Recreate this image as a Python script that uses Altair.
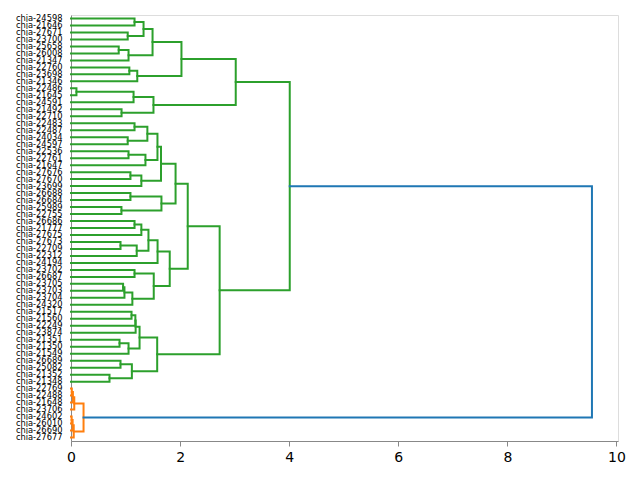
import altair as alt
import pandas as pd

# Leaf labels, listed top to bottom as they appear along the y axis
leaf_labels = [
    "chia-24598", "chia-21646", "chia-27671", "chia-23700", "chia-25658",
    "chia-26008", "chia-21347", "chia-22760", "chia-23698", "chia-21346",
    "chia-22486", "chia-21645", "chia-24591", "chia-21492", "chia-22710",
    "chia-22483", "chia-22487", "chia-24034", "chia-24597", "chia-22536",
    "chia-22761", "chia-21647", "chia-27676", "chia-27670", "chia-23699",
    "chia-26688", "chia-26684", "chia-25989", "chia-22755", "chia-26686",
    "chia-21777", "chia-27675", "chia-27673", "chia-22709", "chia-22312",
    "chia-24194", "chia-23702", "chia-26687", "chia-23705", "chia-23703",
    "chia-23704", "chia-24320", "chia-21517", "chia-21560", "chia-22249",
    "chia-23874", "chia-21351", "chia-21350", "chia-21549", "chia-26689",
    "chia-25082", "chia-21352", "chia-21348", "chia-22769", "chia-22488",
    "chia-21648", "chia-23706", "chia-24602", "chia-26010", "chia-26690",
    "chia-27677",
]

# Merge steps: (cluster id, upper child, lower child, merge distance)
merges = [
    ("a1", "chia-24598", "chia-21646", 1.165),
    ("a2", "chia-27671", "chia-23700", 1.04),
    ("a3", "a1", "a2", 1.33),
    ("a4", "chia-25658", "chia-26008", 0.875),
    ("a5", "a4", "chia-21347", 1.055),
    ("a6", "a3", "a5", 1.495),
    ("a7", "chia-22760", "chia-23698", 1.07),
    ("a8", "a7", "chia-21346", 1.215),
    ("a9", "a6", "a8", 2.025),
    ("a10", "chia-22486", "chia-21645", 0.10),
    ("a11", "a10", "chia-24591", 1.147),
    ("a12", "chia-21492", "chia-22710", 0.927),
    ("a13", "a11", "a12", 1.512),
    ("a14", "a9", "a13", 3.02),
    ("b1", "chia-22483", "chia-22487", 1.165),
    ("b2", "chia-24034", "chia-24597", 1.04),
    ("b3", "b1", "b2", 1.40),
    ("b4", "chia-22536", "chia-22761", 1.055),
    ("b5", "b4", "chia-21647", 1.365),
    ("b6", "b3", "b5", 1.585),
    ("b7", "chia-27676", "chia-27670", 1.09),
    ("b8", "b7", "chia-23699", 1.29),
    ("b9", "b6", "b8", 1.65),
    ("b10", "chia-26688", "chia-26684", 1.09),
    ("b11", "chia-25989", "chia-22755", 0.925),
    ("b12", "b10", "b11", 1.658),
    ("b13", "b9", "b12", 1.917),
    ("c1", "chia-26686", "chia-21777", 1.165),
    ("c2", "c1", "chia-27675", 1.29),
    ("c3", "chia-27673", "chia-22709", 0.908),
    ("c4", "c3", "chia-22312", 1.205),
    ("c5", "c2", "c4", 1.42),
    ("c6", "c5", "chia-24194", 1.587),
    ("c7", "chia-23702", "chia-26687", 1.165),
    ("c8", "chia-23705", "chia-23703", 0.955),
    ("c9", "c8", "chia-23704", 0.98),
    ("c10", "c9", "chia-24320", 1.125),
    ("c11", "c7", "c10", 1.517),
    ("c12", "c6", "c11", 1.81),
    ("c13", "b13", "c12", 2.14),
    ("d1", "chia-21517", "chia-21560", 1.11),
    ("d2", "d1", "chia-22249", 1.18),
    ("d3", "d2", "chia-23874", 1.185),
    ("d4", "chia-21351", "chia-21350", 0.89),
    ("d5", "d4", "chia-21549", 1.055),
    ("d6", "d3", "d5", 1.257),
    ("d7", "chia-26689", "chia-25082", 0.908),
    ("d8", "chia-21352", "chia-21348", 0.706),
    ("d9", "d7", "d8", 1.116),
    ("d10", "d6", "d9", 1.58),
    ("d11", "c13", "d10", 2.725),
    ("g", "a14", "d11", 4.01),
    ("e1", "chia-22769", "chia-22488", 0.015),
    ("e2", "e1", "chia-21648", 0.035),
    ("e3", "e2", "chia-23706", 0.06),
    ("e4", "chia-24602", "chia-26010", 0.012),
    ("e5", "e4", "chia-26690", 0.03),
    ("e6", "e5", "chia-27677", 0.05),
    ("e7", "e3", "e6", 0.23),
    ("root", "g", "e7", 9.55),
]

cluster_palette = ["#2ca02c", "#ff7f0e"]
above_color = "#1f77b4"
tick_values = [0, 2, 4, 6, 8, 10]

n = len(leaf_labels)
max_h = max(m[3] for m in merges)
threshold = 0.7 * max_h

# Positions of leaves (scipy style: leaf slots at 5, 15, 25, ... from the bottom)
ypos = {lab: 10 * (n - 1 - i) + 5 for i, lab in enumerate(leaf_labels)}
xpos = {lab: 0.0 for lab in leaf_labels}
children = {}
for cid, left, right, h in merges:
    ypos[cid] = (ypos[left] + ypos[right]) / 2
    xpos[cid] = h
    children[cid] = (left, right)

# Colour each link: above the threshold in blue, each cluster below it in its own colour
link_color = {}
palette_iter = iter(cluster_palette)


def paint(node, color):
    if node not in children:
        return
    if color is None and xpos[node] > threshold:
        link_color[node] = above_color
        for child in children[node]:
            paint(child, None)
        return
    if color is None:
        color = next(palette_iter)
    link_color[node] = color
    for child in children[node]:
        paint(child, color)


paint(merges[-1][0], None)

rows = []
for cid, left, right, h in merges:
    pts = [
        (xpos[left], ypos[left]),
        (h, ypos[left]),
        (h, ypos[right]),
        (xpos[right], ypos[right]),
    ]
    for k, (x, y) in enumerate(pts):
        rows.append({"link": cid, "step": k, "x": x, "y": y, "color": link_color[cid]})

links = pd.DataFrame(rows)

labels_from_bottom = leaf_labels[::-1]
label_expr = "[" + ",".join(f"'{l}'" for l in labels_from_bottom) + "][floor(datum.value / 10)]"

chart = (
    alt.Chart(links)
    .mark_line(strokeWidth=2, strokeJoin="miter", strokeCap="square")
    .encode(
        x=alt.X(
            "x:Q",
            scale=alt.Scale(domain=[0, max_h * 1.05], nice=False, zero=False),
            axis=alt.Axis(
                values=tick_values, format="d", title=None, grid=False,
                labelFontSize=14, tickSize=5, labelPadding=4, labelFlush=False,
            ),
        ),
        y=alt.Y(
            "y:Q",
            scale=alt.Scale(domain=[0, 10 * n], nice=False, zero=False),
            axis=alt.Axis(
                values=[10 * i + 5 for i in range(n)], labelExpr=label_expr,
                title=None, grid=False, ticks=False, labelFontSize=8.3,
                labelPadding=9, labelOverlap=False, labelBound=False,
                labelFlush=False,
            ),
        ),
        detail="link:N",
        order="step:Q",
        color=alt.Color("color:N", scale=None),
    )
    .properties(
        width=547,
        height=426,
        padding={"left": 71, "top": 15, "right": 22, "bottom": 39},
        autosize=alt.AutoSizeParams(type="none"),
    )
    .configure_view(stroke="black", strokeWidth=1.1)
    .configure_axis(
        domainColor="black", domainWidth=1.1, tickColor="black", tickWidth=1.1,
        labelColor="black", labelFont="DejaVu Sans",
    )
    .configure(font="DejaVu Sans", background="white")
)

chart.save("out.html", embed_options={"renderer": "svg", "actions": False})
